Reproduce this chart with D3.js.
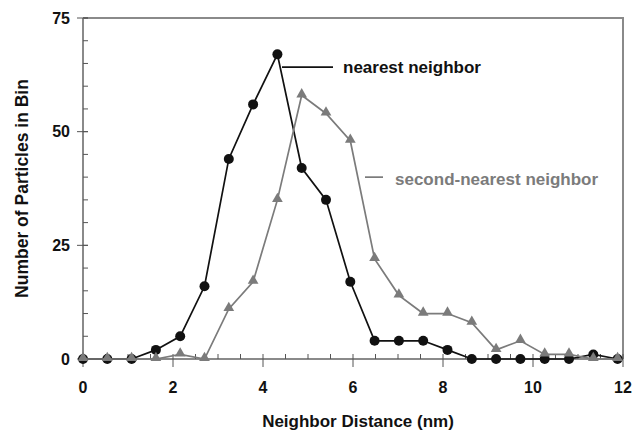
<!DOCTYPE html>
<html>
<head>
<meta charset="utf-8">
<title>Neighbor Distance</title>
<style>
  body { margin: 0; background: #fff; }
  text { font-family: 'Liberation Sans', Arial, sans-serif; font-weight: bold; }
</style>
</head>
<body>
<script src="https://d3js.org/d3.v7.min.js"></script>
<script>
// bin centres (nm) and counts
var distance = [0, 0.54, 1.08, 1.62, 2.16, 2.7, 3.24, 3.78, 4.32, 4.86, 5.4, 5.94,
                6.48, 7.02, 7.56, 8.1, 8.64, 9.18, 9.72, 10.26, 10.8, 11.34, 11.88];
var nearest = [0, 0, 0, 2, 5, 16, 44, 56, 67, 42, 35, 17, 4, 4, 4, 2, 0, 0, 0, 0, 0, 1, 0];
var secondNearest = [0, 0, 0, 0, 1, 0, 11, 17, 35, 58, 54, 48, 22, 14, 10, 10, 8, 2, 4, 1, 1, 0, 0];
var xTicks = [0, 2, 4, 6, 8, 10, 12];
var yTicks = [0, 25, 50, 75];

var W = 638, H = 432;
var margin = {top: 18, right: 15, bottom: 73, left: 83};

var svg = d3.select("body").append("svg")
    .attr("width", W)
    .attr("height", H);

var x = d3.scaleLinear().domain([0, 12]).range([margin.left, W - margin.right]);
var y = d3.scaleLinear().domain([0, 75]).range([H - margin.bottom, margin.top]);

var axisColor = "#8a8a8a";

// frame (top + right)
svg.append("path")
    .attr("d", "M" + x(0) + "," + y(75) + "H" + x(12) + "V" + y(0))
    .attr("fill", "none")
    .attr("stroke", axisColor)
    .attr("stroke-width", 2);

// x axis: major ticks down, minor ticks up
var xAxis = svg.append("g").attr("transform", "translate(0," + y(0) + ")");
xAxis.append("line")
    .attr("x1", x(0)).attr("x2", x(12))
    .attr("stroke", axisColor).attr("stroke-width", 2);
xAxis.selectAll(".minor")
    .data(d3.range(0, 12.01, 0.5))
    .enter().append("line")
    .attr("x1", function(d){ return x(d); })
    .attr("x2", function(d){ return x(d); })
    .attr("y1", 0).attr("y2", -5)
    .attr("stroke", "#555").attr("stroke-width", 1);
xAxis.selectAll(".major")
    .data(xTicks)
    .enter().append("line")
    .attr("x1", function(d){ return x(d); })
    .attr("x2", function(d){ return x(d); })
    .attr("y1", 0).attr("y2", 8)
    .attr("stroke", "#555").attr("stroke-width", 1);
xAxis.selectAll(".xlabel")
    .data(xTicks)
    .enter().append("text")
    .attr("x", function(d){ return x(d); })
    .attr("y", 34)
    .attr("text-anchor", "middle")
    .attr("font-size", "16px")
    .attr("fill", "#111")
    .text(function(d){ return d; });

// y axis: major ticks across, minor ticks inside
var yAxis = svg.append("g").attr("transform", "translate(" + x(0) + ",0)");
yAxis.append("line")
    .attr("y1", y(0)).attr("y2", y(75))
    .attr("stroke", axisColor).attr("stroke-width", 2);
yAxis.selectAll(".minor")
    .data(d3.range(0, 75.1, 5))
    .enter().append("line")
    .attr("y1", function(d){ return y(d); })
    .attr("y2", function(d){ return y(d); })
    .attr("x1", 0).attr("x2", 5)
    .attr("stroke", "#555").attr("stroke-width", 1);
yAxis.selectAll(".major")
    .data(yTicks)
    .enter().append("line")
    .attr("y1", function(d){ return y(d); })
    .attr("y2", function(d){ return y(d); })
    .attr("x1", -6).attr("x2", 5)
    .attr("stroke", "#555").attr("stroke-width", 1);
yAxis.selectAll(".ylabel")
    .data(yTicks)
    .enter().append("text")
    .attr("x", -13)
    .attr("y", function(d){ return y(d); })
    .attr("dy", "0.36em")
    .attr("text-anchor", "end")
    .attr("font-size", "16px")
    .attr("fill", "#111")
    .text(function(d){ return d; });

// axis titles
svg.append("text")
    .attr("x", 358)
    .attr("y", 427)
    .attr("text-anchor", "middle")
    .attr("font-size", "17px")
    .attr("fill", "#111")
    .text("Neighbor Distance (nm)");

svg.append("text")
    .attr("transform", "translate(28," + ((y(0) + y(75)) / 2) + ") rotate(-90)")
    .attr("text-anchor", "middle")
    .attr("font-size", "17.5px")
    .attr("fill", "#111")
    .text("Number of Particles in Bin");

var line = d3.line()
    .x(function(d){ return x(d[0]); })
    .y(function(d){ return y(d[1]); });

var nearData = distance.map(function(d, i){ return [d, nearest[i]]; });
var secondData = distance.map(function(d, i){ return [d, secondNearest[i]]; });

// nearest neighbor series
svg.append("path")
    .datum(nearData)
    .attr("d", line)
    .attr("fill", "none")
    .attr("stroke", "#111")
    .attr("stroke-width", 1.7);
svg.selectAll(".dot")
    .data(nearData)
    .enter().append("circle")
    .attr("cx", function(d){ return x(d[0]); })
    .attr("cy", function(d){ return y(d[1]); })
    .attr("r", 5)
    .attr("fill", "#111");

// second-nearest neighbor series
var grey = "#7b7b7b";
svg.append("path")
    .datum(secondData)
    .attr("d", line)
    .attr("fill", "none")
    .attr("stroke", grey)
    .attr("stroke-width", 1.7);
svg.selectAll(".tri")
    .data(secondData)
    .enter().append("path")
    .attr("d", d3.symbol().type(d3.symbolTriangle).size(50))
    .attr("transform", function(d){ return "translate(" + x(d[0]) + "," + (y(d[1]) - 1) + ")"; })
    .attr("fill", grey);

// annotations
var nearY = y(64.2);
svg.append("line")
    .attr("x1", 282).attr("x2", 333)
    .attr("y1", nearY).attr("y2", nearY)
    .attr("stroke", "#111").attr("stroke-width", 1.7);
svg.append("text")
    .attr("x", 343)
    .attr("y", nearY + 6)
    .attr("font-size", "17px")
    .attr("fill", "#111")
    .text("nearest neighbor");

var secY = y(40);
svg.append("line")
    .attr("x1", 365).attr("x2", 383)
    .attr("y1", secY).attr("y2", secY)
    .attr("stroke", grey).attr("stroke-width", 1.7);
svg.append("text")
    .attr("x", 395)
    .attr("y", secY + 8)
    .attr("font-size", "17px")
    .attr("fill", grey)
    .text("second-nearest neighbor");
</script>
</body>
</html>
